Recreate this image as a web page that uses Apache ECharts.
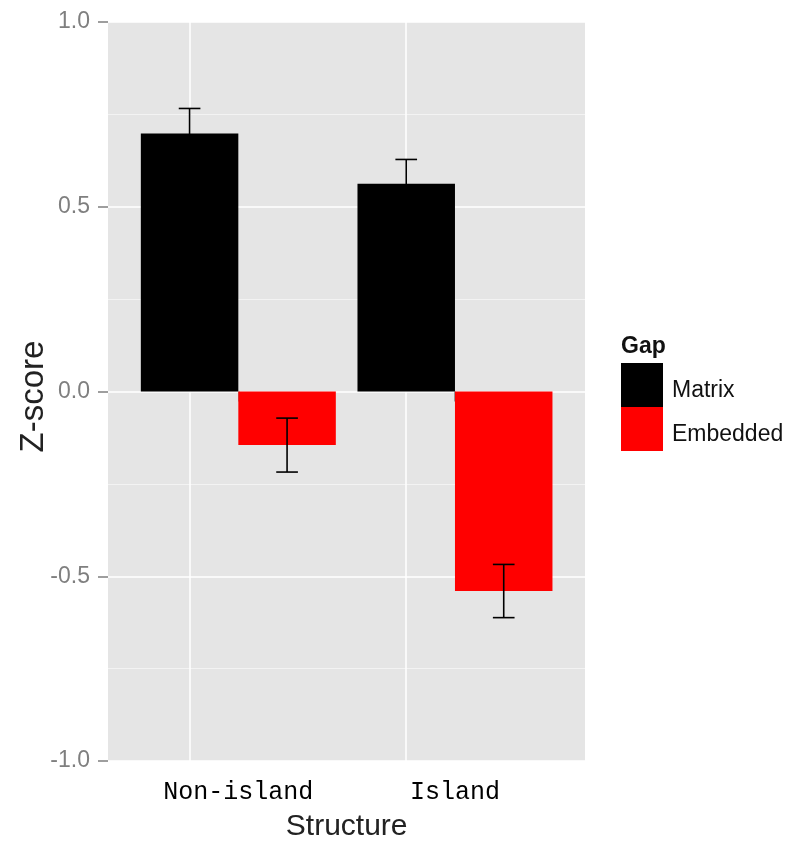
<!DOCTYPE html>
<html>
<head>
<meta charset="utf-8">
<script src="https://cdn.jsdelivr.net/npm/echarts@6/dist/echarts.min.js"></script>
<style>
  html, body { margin: 0; padding: 0; background: #fff; }
  #chart { width: 798px; height: 842px; }
</style>
</head>
<body>
<div id="chart"></div>
<script>
// Mean Z-scores by structure and gap type, with standard errors
const categories = ['Non-island', 'Island'];
const groups = ['Matrix', 'Embedded'];
const matrixMean = [0.698, 0.562];
const matrixSE = [0.068, 0.066];
const embeddedMean = [-0.145, -0.540];
const embeddedSE = [0.073, 0.072];
const yTicks = [-1.0, -0.5, 0.0, 0.5, 1.0];

const groupColors = ['#000000', '#ff0000'];
const means = [matrixMean, embeddedMean];
const ses = [matrixSE, embeddedSE];

// error bar rows: [category index, mean, se, group index]
const errorData = [];
categories.forEach((c, i) => {
  groups.forEach((g, gi) => {
    errorData.push([i, means[gi][i], ses[gi][i], gi]);
  });
});

const chart = echarts.init(document.getElementById('chart'), null, { renderer: 'canvas' });

const tickGrey = '#7f7f7f';
const panelTop = 22, panelBottom = 81;
const sansFont = 'Liberation Sans, Arial, sans-serif';

const option = {
  animation: false,
  backgroundColor: '#ffffff',
  title: {
    text: 'Gap',
    left: 621,
    top: 335,
    padding: 0,
    textStyle: { fontFamily: sansFont, fontSize: 23, fontWeight: 'bold', color: '#111' }
  },
  legend: {
    data: groups,
    orient: 'vertical',
    left: 621,
    top: 363,
    padding: 0,
    itemWidth: 42,
    itemHeight: 44,
    itemGap: 0,
    icon: 'rect',
    selectedMode: false,
    formatter: name => '{t|' + name + '}',
    textStyle: {
      fontFamily: sansFont,
      fontSize: 23,
      color: '#111',
      rich: {
        t: { fontFamily: sansFont, fontSize: 23, color: '#111', padding: [12, 0, 0, 4] }
      }
    }
  },
  grid: [
    // data grid: one band per category
    { left: 130, right: 234.7, top: panelTop, bottom: panelBottom, containLabel: false, outerBoundsMode: 'none' },
    // grey panel with horizontal guides
    { left: 108, right: 213, top: panelTop, bottom: panelBottom, containLabel: false, outerBoundsMode: 'none',
      show: true, backgroundColor: '#e5e5e5', borderWidth: 0 }
  ],
  xAxis: [
    {
      gridIndex: 1, type: 'value', min: 0, max: 1, show: false
    },
    {
      gridIndex: 0,
      type: 'category',
      data: categories,
      axisLine: { show: false },
      axisTick: { show: true, alignWithLabel: true, length: 10, lineStyle: { color: tickGrey, width: 1.5 } },
      axisLabel: {
        fontFamily: 'Liberation Mono, Courier New, monospace',
        fontSize: 25,
        color: '#000',
        margin: 19
      },
      splitLine: { show: false },
      name: 'Structure',
      nameLocation: 'middle',
      nameGap: 51,
      nameMoveOverlap: false,
      nameTextStyle: { fontFamily: sansFont, fontSize: 30, color: '#222' }
    }
  ],
  yAxis: [
    {
      gridIndex: 1,
      type: 'value',
      min: yTicks[0],
      max: yTicks[yTicks.length - 1],
      interval: 0.5,
      axisLine: { show: false },
      axisTick: { show: true, length: 10, lineStyle: { color: tickGrey, width: 1.5 } },
      axisLabel: {
        fontFamily: sansFont,
        fontSize: 23,
        color: tickGrey,
        margin: 18,
        padding: [10, 0, 0, 0],
        formatter: v => v.toFixed(1)
      },
      splitLine: { show: true, lineStyle: { color: '#ffffff', width: 1.5 } },
      minorTick: { show: false, splitNumber: 2 },
      minorSplitLine: { show: true, lineStyle: { color: '#f3f3f3', width: 1 } },
      name: 'Z-score',
      nameLocation: 'middle',
      nameGap: 58,
      nameRotate: 90,
      nameMoveOverlap: false,
      nameTextStyle: { fontFamily: sansFont, fontSize: 33, color: '#222', padding: [0, 10, 0, 0] }
    },
    {
      gridIndex: 0,
      type: 'value',
      min: yTicks[0],
      max: yTicks[yTicks.length - 1],
      show: false,
      splitLine: { show: false }
    }
  ],
  series: [
    {
      name: groups[0],
      type: 'bar',
      xAxisIndex: 1,
      yAxisIndex: 1,
      data: matrixMean,
      barGap: '0%',
      barCategoryGap: '10%',
      itemStyle: { color: groupColors[0] },
      markLine: {
        silent: true,
        z: 1,
        symbol: 'none',
        label: { show: false },
        lineStyle: { color: '#ffffff', width: 1.5, type: 'solid' },
        data: categories.map(c => ({ xAxis: c }))
      }
    },
    {
      name: groups[1],
      type: 'bar',
      xAxisIndex: 1,
      yAxisIndex: 1,
      data: embeddedMean,
      barGap: '0%',
      barCategoryGap: '10%',
      itemStyle: { color: groupColors[1] }
    },
    {
      name: 'se',
      type: 'custom',
      xAxisIndex: 1,
      yAxisIndex: 1,
      z: 5,
      silent: true,
      data: errorData,
      encode: { x: 0, y: 1 },
      renderItem: function (params, api) {
        const idx = api.value(0);
        const m = api.value(1);
        const s = api.value(2);
        const g = api.value(3);
        const band = api.size([1, 0])[0];
        const offset = (g === 0 ? -1 : 1) * band * 0.225;
        const hi = api.coord([idx, m + s]);
        const lo = api.coord([idx, m - s]);
        const x = hi[0] + offset;
        const hw = band * 0.05;
        const style = { stroke: '#000000', lineWidth: 1.6 };
        return {
          type: 'group',
          children: [
            { type: 'line', shape: { x1: x, y1: hi[1], x2: x, y2: lo[1] }, style: style },
            { type: 'line', shape: { x1: x - hw, y1: hi[1], x2: x + hw, y2: hi[1] }, style: style },
            { type: 'line', shape: { x1: x - hw, y1: lo[1], x2: x + hw, y2: lo[1] }, style: style }
          ]
        };
      }
    }
  ]
};

chart.setOption(option);
</script>
</body>
</html>
